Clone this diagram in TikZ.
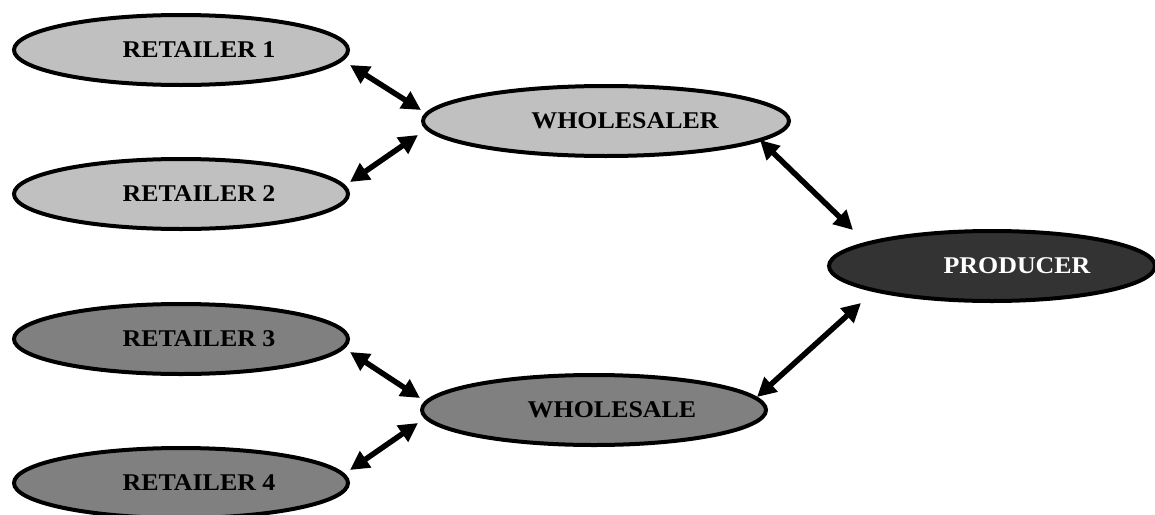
\documentclass[tikz,border=0pt]{standalone}
\usepackage{fontspec}
\setmainfont{Liberation Serif}[FakeStretch=1.08]
\usetikzlibrary{arrows.meta,shapes.geometric,calc}
\definecolor{lightfill}{RGB}{192,192,192}
\definecolor{midfill}{RGB}{128,128,128}
\definecolor{darkfill}{RGB}{51,51,51}
\begin{document}
\begin{tikzpicture}[x=1pt,y=-1pt,
  oval/.style={ellipse, draw=black, line width=4pt, inner sep=0pt, minimum height=70pt,
    font=\fontsize{24}{28}\selectfont\bfseries},
  link/.style={line width=5.5pt, {Triangle[length=19pt,width=19pt]}-{Triangle[length=19pt,width=19pt]}}]
\useasboundingbox (0,0) rectangle (1155,514);
\node[oval, fill=lightfill, minimum width=334pt] (r1) at (181,50) {\hspace*{36pt}RETAILER 1};
\node[oval, fill=lightfill, minimum width=334pt] (r2) at (181,194) {\hspace*{36pt}RETAILER 2};
\node[oval, fill=midfill, minimum width=334pt] (r3) at (181,339) {\hspace*{36pt}RETAILER 3};
\node[oval, fill=midfill, minimum width=334pt] (r4) at (181,483) {\hspace*{36pt}RETAILER 4};
\node[oval, fill=lightfill, minimum width=366pt] (w) at (606,121) {\hspace*{38pt}WHOLESALER};
\node[oval, fill=midfill, minimum width=344pt] (ws) at (594,410) {\hspace*{36pt}WHOLESALE};
\node[oval, fill=darkfill, text=white, minimum width=326pt] (p) at (992,266) {\hspace*{50pt}PRODUCER};
\draw[link] ($(r1.center)+(169,15)$) -- ($(w.center)+(-185,-11)$);
\draw[link] ($(r2.center)+(169,-12)$) -- ($(w.center)+(-188,14)$);
\draw[link] ($(w.center)+(154,19)$) -- ($(p.center)+(-139,-36)$);
\draw[link] ($(ws.center)+(163,-13)$) -- ($(p.center)+(-131,37)$);
\draw[link] ($(r3.center)+(169,13)$) -- ($(ws.center)+(-174,-12)$);
\draw[link] ($(r4.center)+(169,-13)$) -- ($(ws.center)+(-176,13)$);
\end{tikzpicture}
\end{document}
